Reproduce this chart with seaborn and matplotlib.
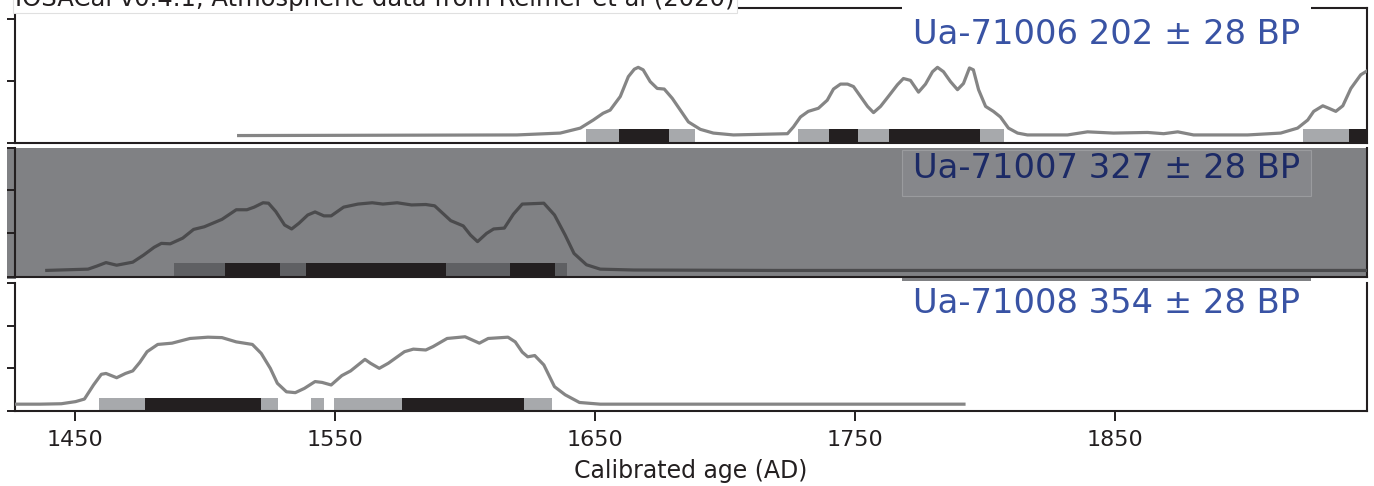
#Gráfico de calibración radiocarbono: tres muestras apiladas
import matplotlib
matplotlib.use('Agg')
import matplotlib.pyplot as plt
import seaborn as sns
from matplotlib.patches import Rectangle

#Datos
titulo = 'IOSACal v0.4.1, Atmospheric data from Reimer et al (2020)'
etiquetas = ['Ua-71006 202 ± 28 BP', 'Ua-71007 327 ± 28 BP', 'Ua-71008 354 ± 28 BP']

#Muestra 1 (Ua-71006)
anios_1 = [1512.4, 1620.0, 1636.7, 1644.4, 1649.4, 1653.2, 1655.9, 1659.8, 1662.9, 1665.2,
           1666.7, 1668.6, 1671.3, 1674.0, 1676.7, 1679.8, 1682.9, 1686.0, 1690.6, 1695.6,
           1703.3, 1724.1, 1726.4, 1729.1, 1732.1, 1736.0, 1739.4, 1741.8, 1744.5, 1747.2,
           1749.5, 1752.2, 1754.9, 1757.2, 1759.9, 1762.9, 1766.4, 1768.7, 1771.4, 1774.5,
           1777.2, 1779.9, 1781.8, 1784.1, 1786.8, 1789.5, 1791.8, 1794.1, 1795.6, 1797.6,
           1800.3, 1803.3, 1806.0, 1809.1, 1812.6, 1816.4, 1831.8, 1839.5, 1849.5, 1862.6,
           1868.8, 1874.2, 1880.3, 1901.1, 1913.8, 1920.3, 1924.2, 1926.5, 1930.0, 1932.3,
           1935.0, 1937.7, 1940.8, 1944.6, 1947.7, 1950.4]
dens_1 = [0.12, 0.13, 0.16, 0.24, 0.37, 0.48, 0.53, 0.75, 1.07, 1.19,
          1.22, 1.18, 0.99, 0.88, 0.87, 0.72, 0.53, 0.34, 0.22, 0.16,
          0.13, 0.15, 0.26, 0.42, 0.51, 0.56, 0.69, 0.87, 0.95, 0.95,
          0.91, 0.75, 0.59, 0.49, 0.59, 0.75, 0.94, 1.04, 1.01, 0.82,
          0.95, 1.15, 1.22, 1.15, 0.99, 0.86, 0.96, 1.21, 1.18, 0.86,
          0.59, 0.51, 0.42, 0.24, 0.16, 0.13, 0.13, 0.18, 0.16, 0.17,
          0.15, 0.18, 0.13, 0.13, 0.16, 0.24, 0.37, 0.51, 0.60, 0.56,
          0.51, 0.60, 0.88, 1.10, 1.18, 1.21]
hpd95_1 = [(1646.7, 1688.6), (1728.3, 1807.2), (1922.3, 1960.0)]
hpd68_1 = [(1659.4, 1678.6), (1740.2, 1751.4), (1763.3, 1798.0), (1940.0, 1960.0)]

#Muestra 2 (Ua-71007)
anios_2 = [1438.6, 1455.1, 1458.5, 1462.0, 1466.1, 1472.3, 1476.4, 1480.5, 1483.3, 1486.7,
           1491.5, 1495.7, 1499.8, 1506.6, 1512.1, 1516.2, 1519.0, 1522.4, 1524.5, 1527.3,
           1530.7, 1533.4, 1536.2, 1539.6, 1542.4, 1545.8, 1548.6, 1553.4, 1558.9, 1564.4,
           1568.5, 1574.0, 1579.5, 1585.0, 1588.4, 1594.6, 1599.4, 1602.2, 1604.9, 1608.4,
           1611.1, 1615.2, 1618.7, 1622.1, 1630.4, 1634.5, 1638.6, 1642.0, 1646.8, 1652.1,
           1665.0, 1720.0, 1800.0, 1880.0, 1950.0]
dens_2 = [0.15, 0.18, 0.25, 0.33, 0.27, 0.34, 0.50, 0.68, 0.77, 0.76,
          0.89, 1.09, 1.15, 1.32, 1.54, 1.54, 1.60, 1.70, 1.69, 1.50,
          1.19, 1.10, 1.23, 1.42, 1.49, 1.40, 1.40, 1.60, 1.67, 1.70,
          1.67, 1.70, 1.65, 1.66, 1.63, 1.29, 1.17, 0.96, 0.81, 1.00,
          1.10, 1.12, 1.44, 1.67, 1.69, 1.42, 0.96, 0.54, 0.28, 0.18,
          0.16, 0.15, 0.15, 0.15, 0.15]
hpd95_2 = [(1488.1, 1639.4)]
hpd68_2 = [(1507.9, 1529.1), (1538.8, 1592.6), (1617.4, 1634.7)]

#Muestra 3 (Ua-71008)
anios_3 = [1427.0, 1436.5, 1444.8, 1450.3, 1453.7, 1457.2, 1460.2, 1462.0, 1466.1, 1469.5,
           1472.3, 1475.0, 1477.8, 1481.9, 1487.4, 1494.3, 1501.2, 1506.6, 1512.1, 1518.3,
           1521.7, 1525.2, 1527.9, 1531.4, 1534.8, 1538.3, 1542.4, 1545.1, 1548.6, 1552.7,
           1556.1, 1561.6, 1563.7, 1567.1, 1570.6, 1576.8, 1580.2, 1585.0, 1587.8, 1593.2,
           1600.1, 1605.6, 1609.0, 1616.6, 1619.4, 1622.1, 1624.2, 1626.9, 1630.4, 1634.5,
           1638.6, 1644.1, 1652.1, 1792.6]
dens_3 = [0.16, 0.16, 0.17, 0.22, 0.28, 0.61, 0.86, 0.88, 0.78, 0.88,
          0.94, 1.14, 1.39, 1.56, 1.59, 1.70, 1.73, 1.72, 1.62, 1.56,
          1.35, 1.00, 0.65, 0.45, 0.43, 0.53, 0.69, 0.67, 0.61, 0.83,
          0.94, 1.21, 1.12, 1.00, 1.12, 1.39, 1.45, 1.43, 1.51, 1.70,
          1.74, 1.59, 1.70, 1.73, 1.62, 1.38, 1.27, 1.30, 1.08, 0.57,
          0.38, 0.20, 0.16, 0.16]
hpd95_3 = [(1459.3, 1528.2), (1540.9, 1545.7), (1549.7, 1633.5)]
hpd68_3 = [(1477.0, 1521.7), (1575.8, 1622.7)]

anios_ticks = [1450, 1550, 1650, 1750, 1850]

#Estilo
sns.set_style('ticks')
plt.rcParams['font.family'] = ['DejaVu Sans']
negro = '#231f20'
azul = '#3953a4'
gris_fondo = '#808184'

W, H = 1374, 486
fig = plt.figure(figsize=(W / 100, H / 100), dpi=100)


def caja(l, t, r, b):
    #convierte píxeles (izq, arriba, der, abajo) a fracción de figura
    return [l / W, 1 - b / H, (r - l) / W, (b - t) / H]


paneles = [
    dict(pos=caja(15, 8, 1367, 143), anios=anios_1, dens=dens_1, h95=hpd95_1, h68=hpd68_1,
         ylim=2.177, yt=[0, 1, 2], bar=(0.016, 0.21), fondo='white', linea='#858585',
         c95='#a7a9ac', texto=azul, base=44),
    dict(pos=caja(15, 148, 1367, 277), anios=anios_2, dens=dens_2, h95=hpd95_2, h68=hpd68_2,
         ylim=2.954, yt=[0, 1, 2, 2.954], bar=(0.023, 0.29), fondo=gris_fondo, linea='#4b4b4d',
         c95='#5f6063', texto='#1c2a66', base=178),
    dict(pos=caja(15, 283, 1367, 411), anios=anios_3, dens=dens_3, h95=hpd95_3, h68=hpd68_3,
         ylim=3.0, yt=[0, 1, 2, 3], bar=(0.023, 0.29), fondo='white', linea='#858585',
         c95='#a7a9ac', texto=azul, base=313),
]

#franja gris a la izquierda del panel resaltado
fig.add_artist(Rectangle((7 / W, 1 - 279 / H), 9 / W, 131 / H, transform=fig.transFigure,
                         facecolor=gris_fondo, edgecolor='none', zorder=-1))

for i, p in enumerate(paneles):
    ax = fig.add_axes(p['pos'])
    ax.set_facecolor(p['fondo'])
    y0, alto = p['bar']
    #intervalos HPD 95% (gris) y 68% (negro)
    for a, b in p['h95']:
        ax.barh(y0 + alto / 2, b - a, left=a, height=alto, color=p['c95'], linewidth=0, zorder=2)
    for a, b in p['h68']:
        ax.barh(y0 + alto / 2, b - a, left=a, height=alto, color=negro, linewidth=0, zorder=3)
    sns.lineplot(x=p['anios'], y=p['dens'], ax=ax, color=p['linea'], linewidth=2.3, zorder=4,
                 solid_joinstyle='round', solid_capstyle='butt')
    ax.set_xlim(1427, 1947)
    ax.set_ylim(0, p['ylim'])
    ax.set_yticks(p['yt'])
    ax.set_yticklabels([])
    ax.tick_params(axis='y', direction='out', length=6, width=1.4, color=negro)
    for lado in ['left', 'right', 'bottom', 'top']:
        ax.spines[lado].set_color(negro)
        ax.spines[lado].set_linewidth(1.5)
    if i > 0:
        ax.spines['top'].set_visible(False)
    if i < 2:
        ax.set_xticks([])
    else:
        ax.set_xticks(anios_ticks)
        ax.tick_params(axis='x', direction='out', length=7, width=1.4, color=negro,
                       labelsize=16, labelcolor=negro, pad=7)
        ax.set_xlabel('Calibrated age (AD)', fontsize=17, color=negro, labelpad=6)
    fig.text(913 / W, 1 - p['base'] / H, etiquetas[i], fontsize=24.3, color=p['texto'],
             ha='left', va='baseline', zorder=5)

#cajas de las etiquetas
fig.add_artist(Rectangle((902 / W, 1 - 11 / H), 409 / W, 7 / H, transform=fig.transFigure,
                         facecolor='white', edgecolor='none', zorder=2))
fig.add_artist(Rectangle((902 / W, 1 - 196 / H), 409 / W, 46 / H, transform=fig.transFigure,
                         facecolor='#86878b', edgecolor='#9a9b9e', linewidth=0.8, zorder=2))
fig.add_artist(Rectangle((902 / W, 1 - 280.5 / H), 409 / W, 3 / H, transform=fig.transFigure,
                         facecolor=gris_fondo, edgecolor='none', zorder=2))

#título cortado en la parte superior
fig.text(15 / W, 1 - 6 / H, titulo, fontsize=17.5, color=negro, ha='left', va='baseline',
         zorder=5, bbox=dict(boxstyle='square,pad=0.1', facecolor='white',
                             edgecolor='#e0e0e0', linewidth=0.8))

fig.savefig('out.png', dpi=100)
